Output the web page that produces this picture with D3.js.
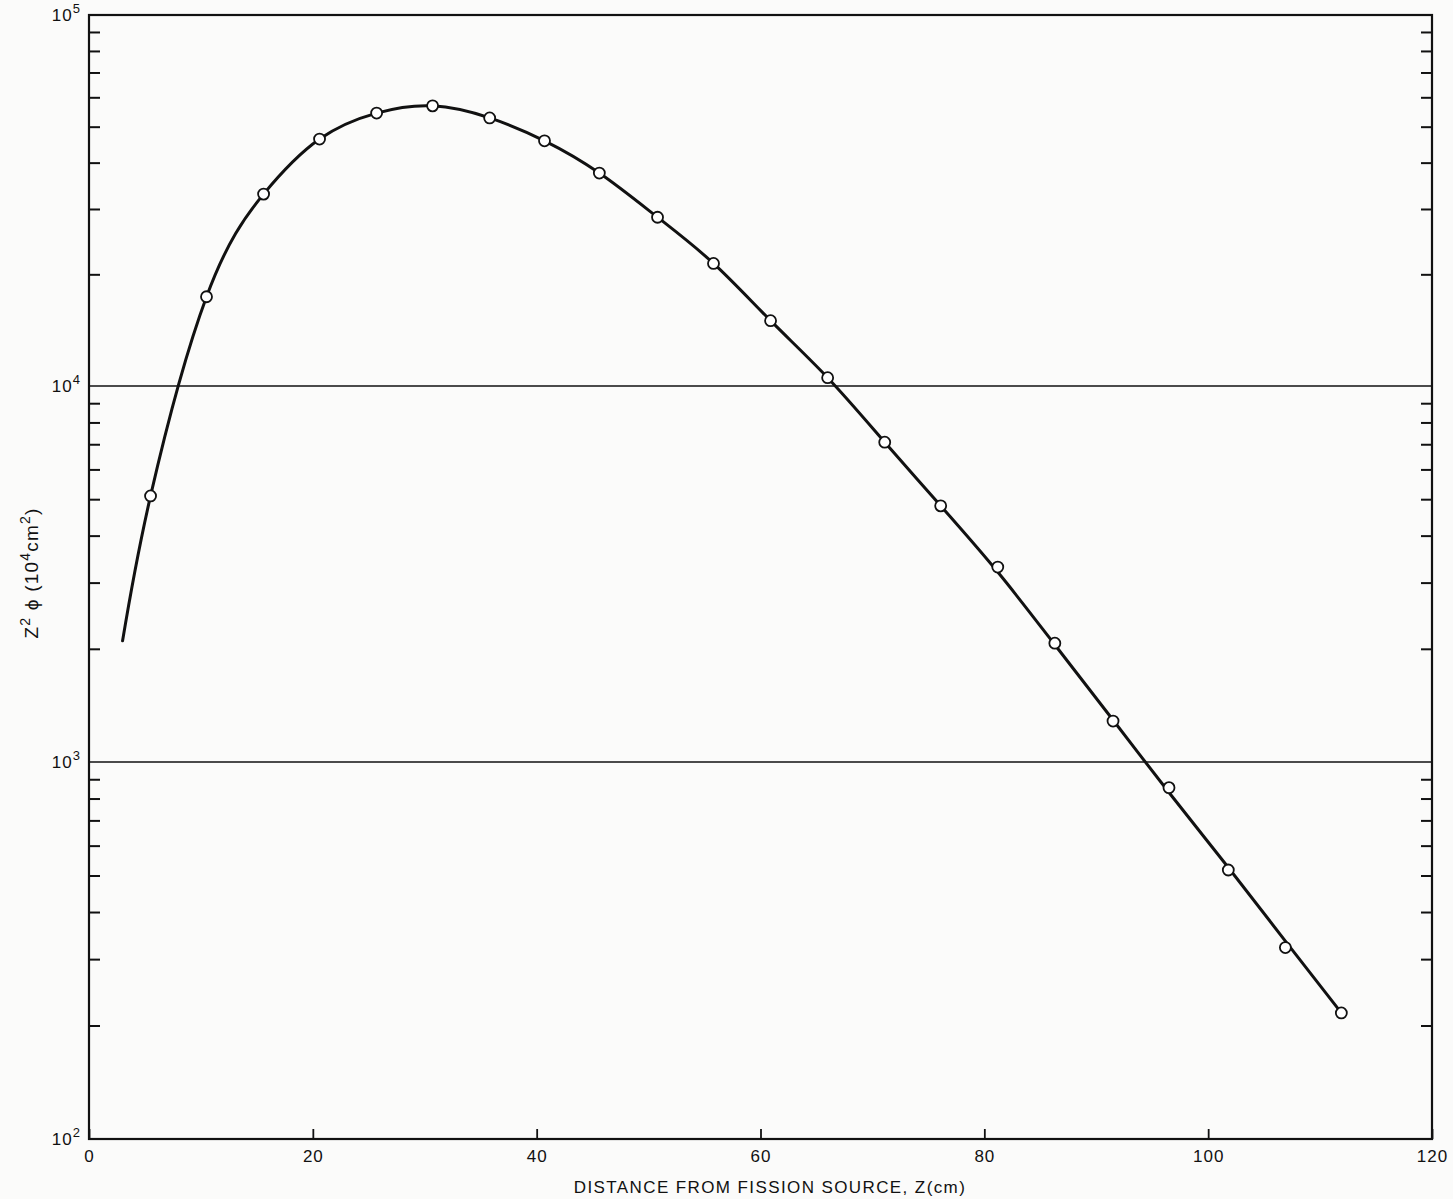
<!DOCTYPE html>
<html>
<head>
<meta charset="utf-8">
<script src="https://cdn.jsdelivr.net/npm/d3@7"></script>
<style>
  body { margin: 0; background: #fbfbfa; }
  svg { display: block; font-family: "Liberation Sans", "DejaVu Sans", sans-serif; }
</style>
</head>
<body>
<svg></svg>
<script>
let width = 1453;
let height = 1199;
let margin = ({top: 15, right: 21, bottom: 60, left: 89});

// measured points: distance z (cm) and z^2 * phi
const zValues = [5.5, 10.5, 15.6, 20.6, 25.7, 30.7, 35.8, 40.7, 45.6, 50.8, 55.8,
                 60.9, 66.0, 71.1, 76.1, 81.2, 86.3, 91.5, 96.5, 101.8, 106.9, 111.9];
const fluxValues = [5100, 17400, 32900, 46300, 54400, 56900, 52800, 45800, 37500, 28500, 21400,
                    15000, 10530, 7090, 4800, 3300, 2070, 1285, 855, 517, 322, 216];

// the smooth drawn curve (it misses a few points slightly)
const curveZ = [3.0, 5.5, 10.5, 15.6, 20.6, 25.7, 30.7, 35.8, 40.7, 45.6, 50.8, 55.8,
                60.9, 66.0, 71.1, 76.1, 81.2, 86.3, 91.5, 96.5, 101.8, 106.9, 111.9];
const curveFlux = [2100, 5100, 17400, 32900, 46300, 54400, 56900, 52800, 45800, 37500, 28500, 21400,
                   15000, 10530, 7090, 4800, 3200, 2050, 1293, 830, 525, 335, 216];

const xTicks = [0, 20, 40, 60, 80, 100, 120];
const yDecades = [100, 1000, 10000, 100000];
const xTitle = "DISTANCE FROM FISSION SOURCE, Z(cm)";

const svg = d3.select("svg")
    .attr("width", width)
    .attr("height", height)
    .attr("viewBox", [0, 0, width, height]);

let x = d3.scaleLinear()
    .domain([0, 120])
    .range([margin.left, width - margin.right]);

// hand-ruled paper: decades are not quite equal, so the log scale is piecewise
let y = d3.scaleLog()
    .domain(yDecades)
    .range([height - margin.bottom, 762, 386, margin.top]);

let minorTicks = y.ticks().filter(v => !yDecades.includes(v));

// gridlines at the inner decades
svg.append("g")
    .selectAll("line")
    .data(yDecades.slice(1, -1))
    .join("line")
    .attr("x1", x(0))
    .attr("x2", x(120))
    .attr("y1", d => y(d))
    .attr("y2", d => y(d))
    .attr("stroke", "#111")
    .attr("stroke-width", 1.3);

// minor ticks, pointing inward on both sides
let leftAxis = g => g
    .attr("transform", `translate(${x(0)},0)`)
    .call(d3.axisLeft(y).tickValues(minorTicks).tickSize(-11).tickFormat(""))
    .call(g => g.select(".domain").remove())
    .call(g => g.selectAll("line").attr("stroke", "#111").attr("stroke-width", 2));

let rightAxis = g => g
    .attr("transform", `translate(${x(120)},0)`)
    .call(d3.axisRight(y).tickValues(minorTicks).tickSize(-11).tickFormat(""))
    .call(g => g.select(".domain").remove())
    .call(g => g.selectAll("line").attr("stroke", "#111").attr("stroke-width", 2));

let xAxis = g => g
    .attr("transform", `translate(0,${y(100)})`)
    .call(d3.axisBottom(x).tickValues(xTicks).tickSize(-10).tickPadding(11))
    .call(g => g.select(".domain").remove())
    .call(g => g.selectAll("line").attr("stroke", "#111").attr("stroke-width", 1.8))
    .call(g => g.selectAll("text")
        .attr("fill", "#111")
        .attr("font-size", 17)
        .attr("letter-spacing", 1)
        .attr("font-family", "Liberation Sans, sans-serif"));

svg.append("g").call(leftAxis);
svg.append("g").call(rightAxis);
svg.append("g").call(xAxis);

// frame
svg.append("rect")
    .attr("x", x(0))
    .attr("y", y(100000))
    .attr("width", x(120) - x(0))
    .attr("height", y(100) - y(100000))
    .attr("fill", "none")
    .attr("stroke", "#111")
    .attr("stroke-width", 2.2);

// decade labels 10^n
let yLabel = svg.append("g")
    .selectAll("text")
    .data(yDecades)
    .join("text")
    .attr("x", x(0) - 8)
    .attr("y", d => y(d) + 6)
    .attr("text-anchor", "end")
    .attr("fill", "#111")
    .attr("font-size", 17)
    .attr("letter-spacing", 1);
yLabel.append("tspan").text("10");
yLabel.append("tspan")
    .attr("dy", -8)
    .attr("font-size", 13)
    .text(d => Math.round(Math.log10(d)));

// axis titles
svg.append("text")
    .attr("x", 770)
    .attr("y", 1193)
    .attr("text-anchor", "middle")
    .attr("fill", "#111")
    .attr("font-size", 17)
    .attr("letter-spacing", 1.4)
    .text(xTitle);

let yTitle = svg.append("text")
    .attr("transform", "translate(38,573) rotate(-90)")
    .attr("text-anchor", "middle")
    .attr("fill", "#111")
    .attr("font-size", 19)
    .attr("letter-spacing", 1.2);
yTitle.append("tspan").text("Z");
yTitle.append("tspan").attr("dy", -8).attr("font-size", 14).text("2");
yTitle.append("tspan").attr("dy", 8).text(" \u03D5 (10");
yTitle.append("tspan").attr("dy", -8).attr("font-size", 14).text("4");
yTitle.append("tspan").attr("dy", 8).text("cm");
yTitle.append("tspan").attr("dy", -8).attr("font-size", 14).text("2");
yTitle.append("tspan").attr("dy", 8).text(")");

// curve and points
let points = zValues.map((z, i) => ({z, flux: fluxValues[i]}));
let curvePoints = curveZ.map((z, i) => ({z, flux: curveFlux[i]}));

let line = d3.line()
    .x(d => x(d.z))
    .y(d => y(d.flux))
    .curve(d3.curveNatural);

svg.append("path")
    .datum(curvePoints)
    .attr("d", line)
    .attr("fill", "none")
    .attr("stroke", "#111")
    .attr("stroke-width", 3)
    .attr("stroke-linejoin", "round")
    .attr("stroke-linecap", "round");

svg.append("g")
    .selectAll("circle")
    .data(points)
    .join("circle")
    .attr("cx", d => x(d.z))
    .attr("cy", d => y(d.flux))
    .attr("r", 5.5)
    .attr("fill", "#fff")
    .attr("stroke", "#111")
    .attr("stroke-width", 1.8);
</script>
</body>
</html>
